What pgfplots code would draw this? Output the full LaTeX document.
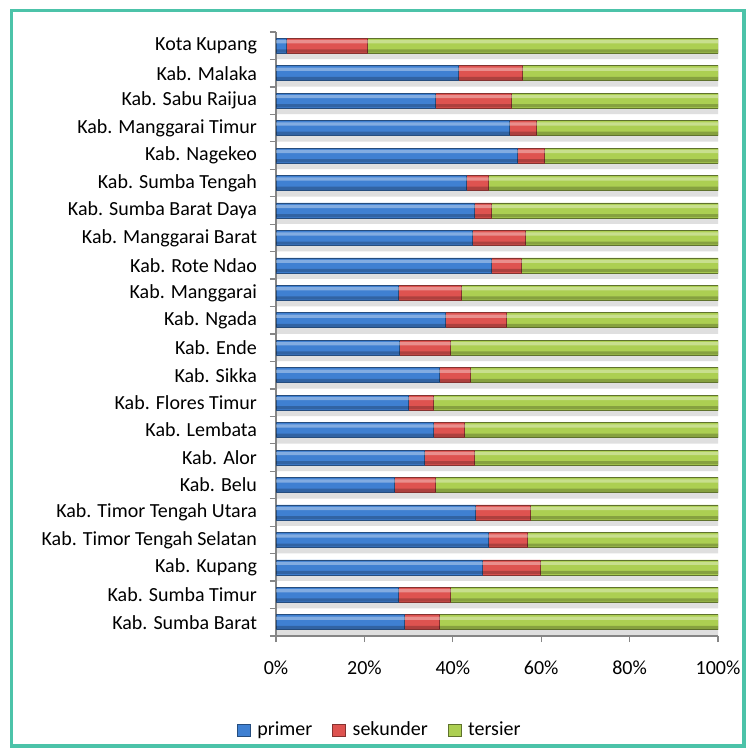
\documentclass[border=0pt]{standalone}
\usepackage{pgfplots}
\pgfplotsset{compat=1.18}
\usepackage{pgfplotstable}
\usepackage{fontspec}
\setmainfont{Carlito}

\definecolor{frame}{HTML}{4CC3A9}
\definecolor{axgray}{HTML}{868686}
\definecolor{cprim}{HTML}{3F80D2}
\definecolor{csek}{HTML}{DE5350}
\definecolor{cter}{HTML}{ACCF52}

% idx = position from the bottom, primer/sekunder/tersier in percent
\pgfplotstableread{
idx primer sekunder tersier full
0  29.1  7.9 63.0 100
1  27.6 11.9 60.5 100
2  46.6 13.1 40.3 100
3  48.1  8.8 43.1 100
4  45.0 12.5 42.5 100
5  26.7  9.4 63.9 100
6  33.5 11.4 55.1 100
7  35.5  7.0 57.5 100
8  30.0  5.5 64.5 100
9  37.0  6.9 56.1 100
10 27.9 11.5 60.6 100
11 38.3 13.7 48.0 100
12 27.6 14.3 58.1 100
13 48.6  6.8 44.6 100
14 44.4 12.1 43.5 100
15 44.9  3.7 51.4 100
16 43.1  4.9 52.0 100
17 54.7  6.1 39.2 100
18 52.8  6.0 41.2 100
19 36.1 17.2 46.7 100
20 41.3 14.4 44.3 100
21  2.3 18.3 79.4 100
}\datatable

\pgfplotsset{
  base/.style={
    at={(138bp,-16bp)}, anchor=north west,
    scale only axis, width=221bp, height=302bp,
    xmin=0, xmax=100, ymin=-0.5, ymax=21.5,
  },
}

\begin{document}
\begin{tikzpicture}
\fill[white] (0,0) rectangle (377.5bp,-378bp);
\draw[frame, line width=1.6bp] (5.8bp,-5.2bp) rectangle (372bp,-373bp);

% bar shadows
\begin{axis}[base, axis lines=none, xbar, bar width=7.5bp, bar shift=-3bp]
\addplot[fill=gray!25, draw=none] table[x=full, y=idx] {\datatable};
\end{axis}

\begin{axis}[base,
  xbar stacked, bar width=7.5bp,
  axis x line*=bottom, axis y line*=left,
  axis line style={axgray, line width=0.6bp},
  tick align=outside, major tick length=3bp, minor tick length=3bp,
  tick style={axgray, line width=0.6bp},
  every major y tick/.append style={draw=none},
  ytick={0,...,21},
  minor ytick={-0.5,0.5,...,21.5},
  yticklabels={Kab. Sumba Barat, Kab. Sumba Timur, Kab. Kupang,
    Kab. Timor Tengah Selatan, Kab. Timor Tengah Utara, Kab. Belu,
    Kab. Alor, Kab. Lembata, Kab. Flores Timur, Kab. Sikka, Kab. Ende,
    Kab. Ngada, Kab. Manggarai, Kab. Rote Ndao, Kab. Manggarai Barat,
    Kab. Sumba Barat Daya, Kab. Sumba Tengah, Kab. Nagekeo,
    Kab. Manggarai Timur, Kab. Sabu Raijua, Kab. Malaka, Kota Kupang},
  xtick={0,20,...,100},
  xticklabels={0\%,20\%,40\%,60\%,80\%,100\%},
  tick label style={font=\fontsize{10bp}{12bp}\selectfont, text=black},
  yticklabel style={xshift=-3bp},
  xticklabel style={yshift=-6bp},
  legend style={at={(0.237,-0.156)}, anchor=center, draw=none, fill=none,
    legend columns=-1, font=\fontsize{10bp}{12bp}\selectfont,
    /tikz/every odd column/.append style={column sep=1.5bp},
    /tikz/every even column/.append style={column sep=8bp}},
  legend image code/.code={\draw[#1] (0bp,-3.2bp) rectangle (6.4bp,3.2bp);},
]
\addplot[fill=cprim, draw=cprim!60!black, line width=0.3bp]
  table[x=primer, y=idx] {\datatable};
\addplot[fill=csek, draw=csek!60!black, line width=0.3bp]
  table[x=sekunder, y=idx] {\datatable};
\addplot[fill=cter, draw=cter!55!black, line width=0.3bp]
  table[x=tersier, y=idx] {\datatable};
\legend{primer, sekunder, tersier}
\end{axis}

% glossy highlight and dark lower edge over every bar
\begin{axis}[base, axis lines=none, xbar, bar width=1.6bp]
\addplot[fill=white, fill opacity=0.35, draw=none, bar shift=2bp]
  table[x=full, y=idx] {\datatable};
\addplot[fill=black, fill opacity=0.22, draw=none, bar shift=-2.6bp]
  table[x=full, y=idx] {\datatable};
\end{axis}
\end{tikzpicture}
\end{document}
